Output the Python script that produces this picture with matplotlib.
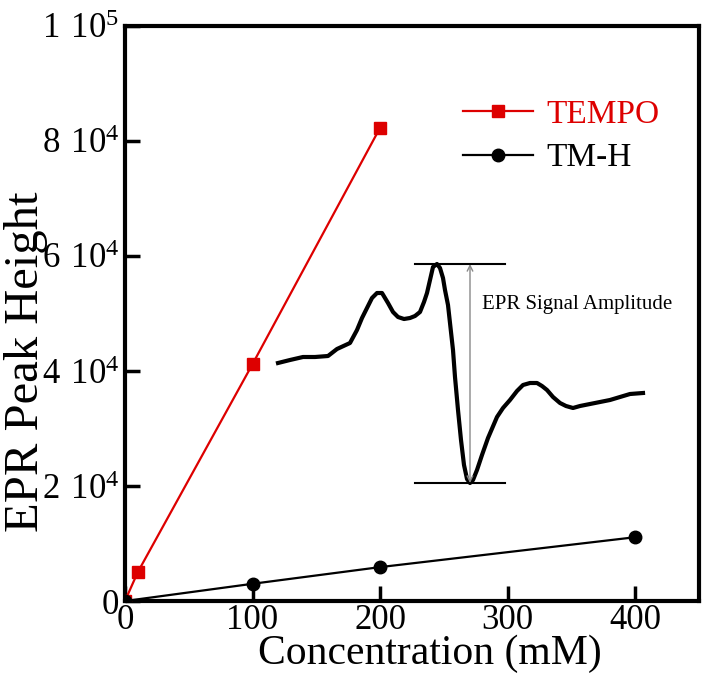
import matplotlib
matplotlib.use("Agg")
import matplotlib.pyplot as plt
from matplotlib.ticker import FixedLocator, FixedFormatter

plt.rcParams['font.family'] = ['Liberation Serif', 'DejaVu Serif']
plt.rcParams['mathtext.fontset'] = 'custom'
plt.rcParams['mathtext.rm'] = 'Liberation Serif'

# peak height vs concentration
tempo_conc = [0, 10, 100, 200]
tempo_height = [0, 5000, 41200, 82300]
tmh_conc = [0, 100, 200, 400]
tmh_height = [0, 3000, 5900, 11100]

y_ticks = [0, 20000, 40000, 60000, 80000, 100000]
y_labels = ['0', r'$\mathregular{2\ 10^4}$', r'$\mathregular{4\ 10^4}$',
            r'$\mathregular{6\ 10^4}$', r'$\mathregular{8\ 10^4}$', r'$\mathregular{1\ 10^5}$']
x_ticks = [0, 100, 200, 300, 400]

# example EPR spectrum (arbitrary field / intensity units)
epr_field = [8, 20, 33, 45, 58, 67, 80, 87, 92, 97, 102, 107, 112, 118, 123, 128,
             134, 140, 145, 150, 154, 157, 160, 163, 167, 170, 173, 175, 178, 180,
             183, 185, 188, 191, 194, 197, 200, 203, 207, 212, 218, 227, 233, 240,
             247, 253, 260, 267, 272, 277, 283, 290, 296, 303, 310, 320, 330, 340,
             350, 360, 373]
epr_signal = [127, 130, 133, 133, 134, 141, 147, 160, 172, 182, 192, 197, 197, 187,
              178, 173, 171, 172, 174, 178, 188, 197, 210, 223, 226, 222, 212, 200,
              185, 167, 140, 113, 80, 50, 25, 11, 7, 10, 20, 35, 52, 73, 82, 90, 99,
              105, 107, 107, 104, 100, 93, 87, 84, 82, 84, 86, 88, 90, 93, 96, 97]
amp_top = 226
amp_bottom = 7
amp_field = 200

red = '#dd0000'

fig = plt.figure(figsize=(7.1, 6.83), dpi=100)
ax = fig.add_axes([0.176, 0.12, 0.8085, 0.842])

ax.plot(tempo_conc, tempo_height, color=red, lw=1.6, marker='s', ms=9,
        label='TEMPO', zorder=3)
ax.plot(tmh_conc, tmh_height, color='black', lw=1.6, marker='o', ms=9,
        label='TM-H', zorder=3)

ax.set_xlim(0, 450)
ax.set_ylim(0, 100000)
ax.xaxis.set_major_locator(FixedLocator(x_ticks))
ax.yaxis.set_major_locator(FixedLocator(y_ticks))
ax.yaxis.set_major_formatter(FixedFormatter(y_labels))
ax.tick_params(direction='in', length=11, width=2.5, labelsize=25, pad=4)
ax.tick_params(axis='x', pad=2)
for s in ax.spines.values():
    s.set_linewidth(3)

ax.set_xlabel('Concentration (mM)', fontsize=30)
ax.xaxis.set_label_coords(0.531, -0.059, transform=ax.transAxes)
ax.xaxis.label.set_va('top')
ax.set_ylabel('EPR Peak Height', fontsize=35, va='center')
ax.yaxis.set_label_coords(-0.172, 0.416, transform=ax.transAxes)

leg = ax.legend(loc='upper left', bbox_to_anchor=(0.536, 0.925), frameon=False,
                fontsize=24, handlelength=2.1, labelspacing=0.4, handletextpad=0.4)
for txt, c in zip(leg.get_texts(), [red, 'black']):
    txt.set_color(c)

# inset spectrum
ins = fig.add_axes([270 / 710, 1 - 490 / 683, 380 / 710, 235 / 683])
ins.set_xlim(0, 380)
ins.set_ylim(0, 235)
ins.axis('off')
ins.patch.set_alpha(0)
ins.plot(epr_field, epr_signal, color='black', lw=3)
ins.plot([145, 235], [amp_top, amp_top], color='black', lw=1.5)
ins.plot([145, 235], [amp_bottom, amp_bottom], color='black', lw=1.5)
ins.annotate('', xy=(amp_field, amp_top), xytext=(amp_field, amp_bottom),
             arrowprops=dict(arrowstyle='<->', color='#888888', lw=1,
                             shrinkA=0, shrinkB=0))
ins.text(212, 185, 'EPR Signal Amplitude', fontsize=15, va='center', ha='left')

fig.savefig('out.png', dpi=100)
